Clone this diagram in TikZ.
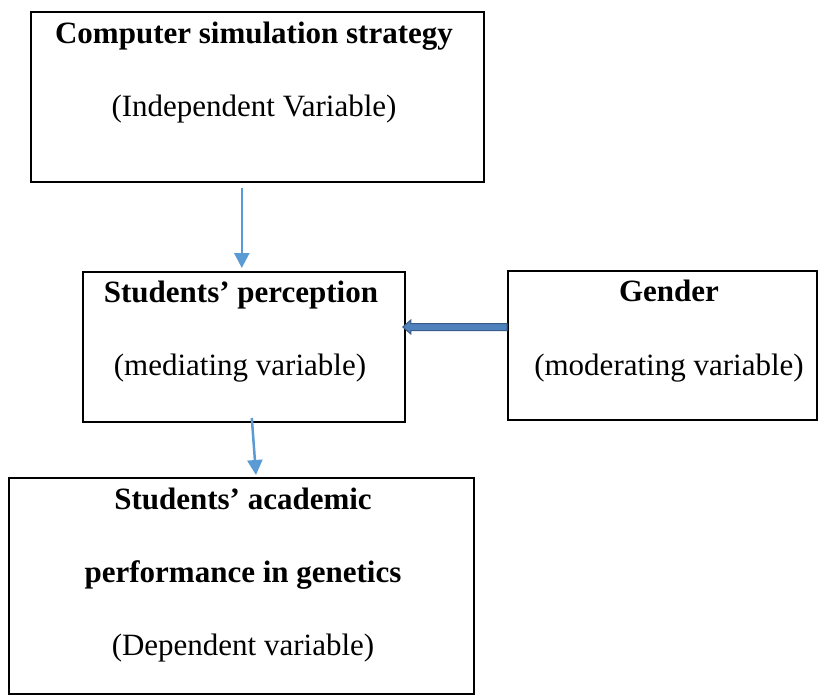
\documentclass[tikz,border=0pt]{standalone}
\usepackage{fontspec}
\setmainfont{Liberation Serif}
\usetikzlibrary{arrows.meta,calc}
\definecolor{arrblue}{HTML}{5B9BD5}
\definecolor{bodyblue}{HTML}{4F81BD}
\definecolor{edgeblue}{HTML}{385D8A}
\begin{document}
\begin{tikzpicture}[x=1pt,y=-1pt,
  box/.style={draw=black,line width=2pt,inner sep=0pt,rectangle},
  lbl/.style={font=\fontsize{31}{37}\selectfont,anchor=base,inner sep=0pt},
  blbl/.style={font=\fontsize{31}{37}\selectfont\bfseries,anchor=base,inner sep=0pt},
  arr/.style={draw=arrblue,line width=2.5pt,-{Triangle[width=15pt,length=15pt]}},
  blockarr/.style={fill=bodyblue,draw=edgeblue,line width=1pt,line join=miter}]
\useasboundingbox (0,0) rectangle (825,696);

% boxes
\node[box,minimum width=453pt,minimum height=170pt] (cs) at (257.5,97) {};
\node[box,minimum width=322pt,minimum height=150pt] (sp) at (243.8,347) {};
\node[box,minimum width=309pt,minimum height=149pt] (gd) at (662.5,345.5) {};
\node[box,minimum width=465pt,minimum height=216pt] (ap) at (241.5,586) {};

% texts
\node[blbl] (cs1) at (254,43) {Computer simulation strategy};
\node[lbl]  (cs2) at (254,116) {(Independent Variable)};
\node[blbl] (sp1) at (241,302) {Students’ perception};
\node[lbl]  (sp2) at (240,375) {(mediating variable)};
\node[blbl] (gd1) at (669,301) {Gender};
\node[lbl]  (gd2) at (669,375) {(moderating variable)};
\node[blbl] (ap1) at (243,509) {Students’ academic};
\node[blbl] (ap2) at (243,582) {performance in genetics};
\node[lbl]  (ap3) at (243,655) {(Dependent variable)};

% connectors
\draw[arr] ($(sp.north |- cs.south)+(-2,5)$) -- ($(sp.north)+(-2,-3)$);
\draw[arr] ($(sp.south)+(8,-5)$) -- ($(ap.north)+(14.5,-2)$);

\coordinate (hs) at ($(gd.west)+(0,-18.5)$);
\coordinate (tip) at ($(sp.east |- hs)+(-3,0)$);
\filldraw[blockarr] (tip) -- ++(8,-7) -- ++(0,3.5) -- ($(hs)+(0,-3.5)$)
  -- ($(hs)+(0,3.5)$) -- ($(tip)+(8,3.5)$) -- ++(0,3.5) -- cycle;
\end{tikzpicture}
\end{document}
